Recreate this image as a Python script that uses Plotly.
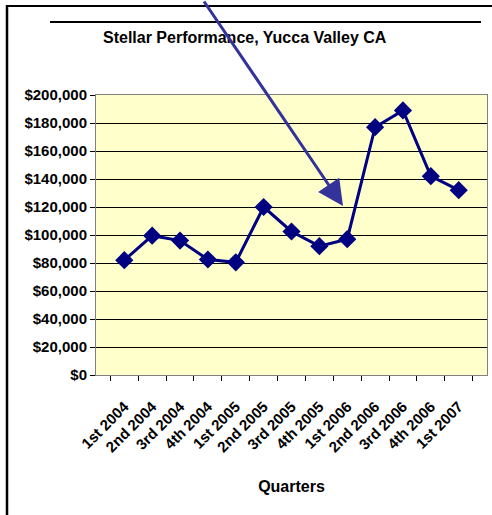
import plotly.graph_objects as go

quarters = ["1st 2004", "2nd 2004", "3rd 2004", "4th 2004", "1st 2005", "2nd 2005",
            "3rd 2005", "4th 2005", "1st 2006", "2nd 2006", "3rd 2006", "4th 2006", "1st 2007"]
sales = [82000, 99500, 96000, 82500, 80500, 120000, 102500, 92000, 97000, 177000, 189000, 142000, 132000]

W, H = 492, 515
L, R, T, B = 96, 5, 95, 140
PW, PH = W - L - R, H - T - B

def px(x):
    return (x - L) / PW

def py(y):
    return (H - B - y) / PH

fig = go.Figure()
fig.add_trace(go.Scatter(
    x=quarters, y=sales, mode="lines+markers",
    line=dict(color="#000080", width=3),
    marker=dict(symbol="diamond", size=14, color="#000080"),
    showlegend=False, hoverinfo="skip"))

font = dict(family="Arial, Liberation Sans, sans-serif", color="#000000", weight="bold")

fig.update_layout(
    width=W, height=H,
    margin=dict(l=L, r=R, t=T, b=B),
    paper_bgcolor="white", plot_bgcolor="#FFFFCC",
    font=dict(**font, size=14),
    xaxis=dict(type="category", tickangle=-45, ticks="outside", tickson="boundaries",
               ticklen=5, tickcolor="#000000", showgrid=False, ticklabelstandoff=16,
               showline=True, linecolor="#808080", linewidth=1, mirror=True,
               tickfont=dict(**font, size=15),
               title=dict(text="Quarters", font=dict(**font, size=16), standoff=26)),
    yaxis=dict(range=[0, 200000], dtick=20000, tickprefix="$", tickformat=",",
               ticks="outside", ticklen=5, tickcolor="#000000",
               showgrid=True, gridcolor="#000000", gridwidth=1,
               showline=True, linecolor="#808080", linewidth=1, mirror=True,
               zeroline=False, tickfont=dict(**font, size=15)),
)

fig.add_annotation(text="Stellar Performance, Yucca Valley CA", xref="paper", yref="paper",
                   x=px(245), y=py(37), xanchor="center", yanchor="middle", showarrow=False,
                   font=dict(**font, size=16))

# frame and title rule
fig.add_shape(type="line", xref="paper", yref="paper", x0=px(6), x1=px(492), y0=py(6), y1=py(6),
              line=dict(color="#000000", width=2))
fig.add_shape(type="line", xref="paper", yref="paper", x0=px(7), x1=px(7), y0=py(5), y1=py(515),
              line=dict(color="#000000", width=2.5))
fig.add_shape(type="line", xref="paper", yref="paper", x0=px(50), x1=px(481), y0=py(22), y1=py(22),
              line=dict(color="#000000", width=2))

# pointer arrow
fig.add_annotation(text="", xref="paper", yref="paper", x=px(343), y=py(206),
                   ax=203 - 343, ay=0 - 206, axref="pixel", ayref="pixel",
                   showarrow=True, arrowhead=2, arrowsize=1.7, arrowwidth=3, arrowcolor="#333399")

fig.write_html("out.html", config={"displayModeBar": False},
               post_script="document.body.style.margin='0px';document.body.style.overflow='hidden';")
